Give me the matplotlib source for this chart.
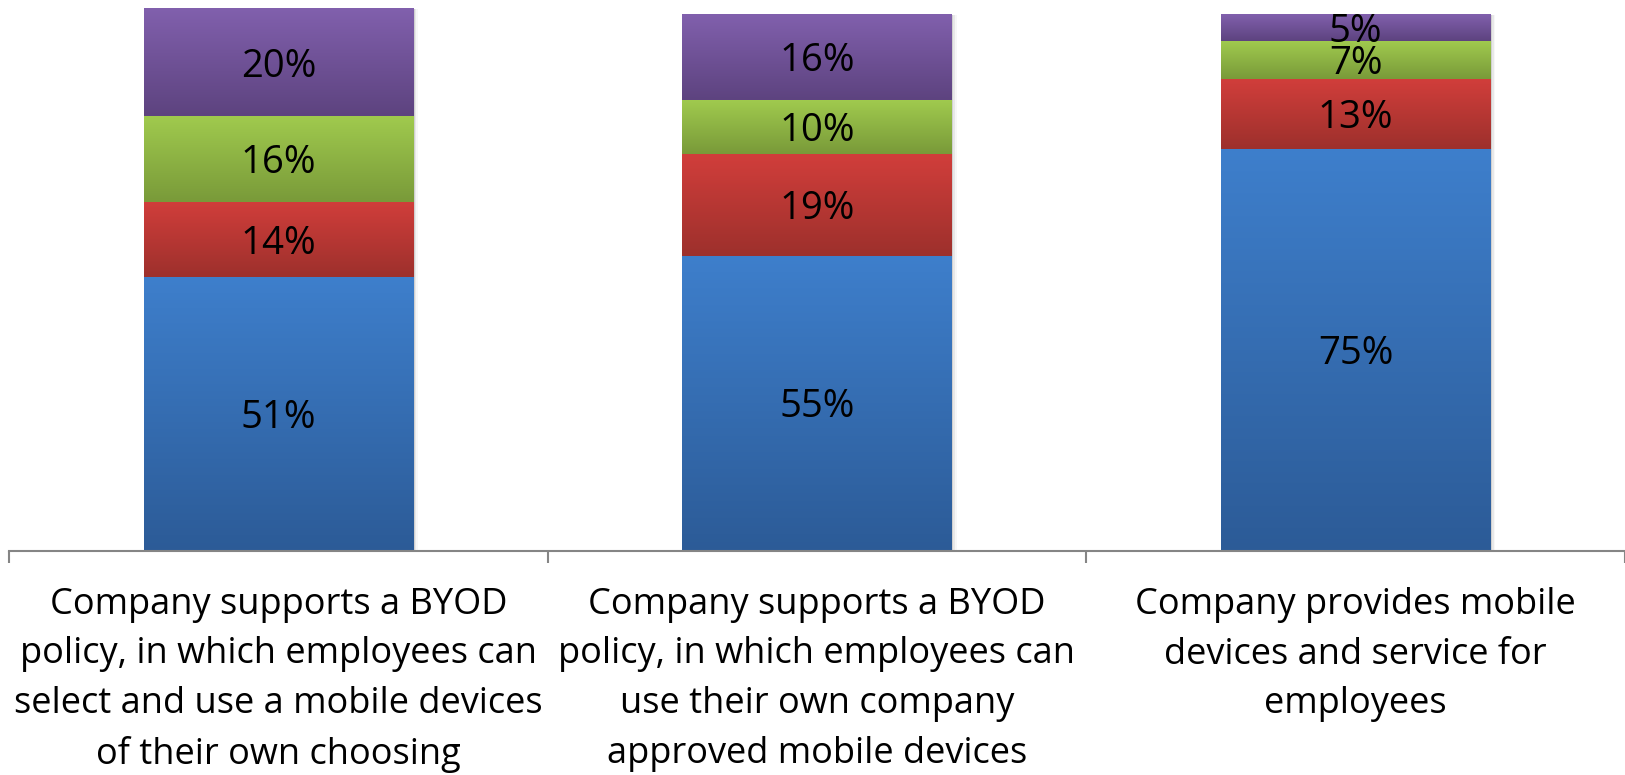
import numpy as np
import matplotlib.pyplot as plt
from matplotlib.colors import LinearSegmentedColormap
from matplotlib.patches import Rectangle
from matplotlib.transforms import blended_transform_factory, ScaledTranslation

plt.rcParams["font.family"] = ["Open Sans", "DejaVu Sans"]

# --- Data -----------------------------------------------------------------
categories = [
    "Company supports a BYOD\npolicy, in which employees can\nselect and use a mobile devices\nof their own choosing",
    "Company supports a BYOD\npolicy, in which employees can\nuse their own company\napproved mobile devices",
    "Company provides mobile\ndevices and service for\nemployees",
]
blue = [51, 55, 75]
red = [14, 19, 13]
green = [16, 10, 7]
purple = [20, 16, 5]

series = [blue, red, green, purple]
# (top colour, bottom colour) for each series' vertical gradient
shades = [
    ("#3e7fcc", "#2c5b97"),
    ("#d13e3b", "#9d302c"),
    ("#a0ca4e", "#799a39"),
    ("#8160ad", "#5d437f"),
]

W, H = 1625, 775
fig = plt.figure(figsize=(W / 100, H / 100), dpi=100)
ax_left, ax_bottom, ax_top = 9, 551, 14.5
ax = fig.add_axes([ax_left / W, (H - ax_bottom) / H,
                   (W - ax_left) / W, (ax_bottom - ax_top) / H])

x = np.arange(len(categories))
bar_w = 0.5
grad = np.linspace(0, 1, 256).reshape(-1, 1)
down = ScaledTranslation(0, -4 / 100, fig.dpi_scale_trans)

bottom = np.zeros(len(categories))
for vals, (c_top, c_bot) in zip(series, shades):
    cmap = LinearSegmentedColormap.from_list("g", [c_bot, c_top])
    for i, v in enumerate(vals):
        x0, x1 = x[i] - bar_w / 2, x[i] + bar_w / 2
        y0, y1 = bottom[i], bottom[i] + v
        ax.imshow(grad, cmap=cmap, extent=[x0, x1, y0, y1], origin="lower",
                  aspect="auto", interpolation="bilinear", zorder=2,
                  clip_on=False)
        ax.text(x[i], y0 + v / 2, f"{v}%", ha="center", va="center",
                fontsize=27.5, color="black", zorder=4,
                transform=ax.transData + down)
    bottom += vals

# soft shadow on the right edge of each bar
for i in range(len(categories)):
    for k, a in enumerate([0.10, 0.06, 0.03]):
        ax.add_patch(Rectangle((x[i] + bar_w / 2, 0), 0.003 * (k + 1), bottom[i],
                               facecolor="black", alpha=a, lw=0, zorder=1,
                               clip_on=False))

ax.set_xlim(-0.5, -0.5 + (W - ax_left) / 544)
ax.set_ylim(0, 100)

for s in ["top", "right", "left"]:
    ax.spines[s].set_visible(False)
ax.spines["bottom"].set_color("#858585")
ax.spines["bottom"].set_linewidth(1.5)
ax.spines["bottom"].set_zorder(3)
ax.set_yticks([])
ax.set_xticks([-0.5, 0.5, 1.5, 2.5])
ax.set_xticklabels([])
ax.tick_params(axis="x", direction="out", length=8.5, width=1.5, color="#858585")

trans = blended_transform_factory(ax.transData, fig.transFigure)
for i, lab in enumerate(categories):
    ax.text(x[i], 1 - 587 / H, lab, transform=trans, ha="center", va="top",
            fontsize=26, linespacing=1.5, color="black", clip_on=False)

fig.savefig("out.png", dpi=100)
